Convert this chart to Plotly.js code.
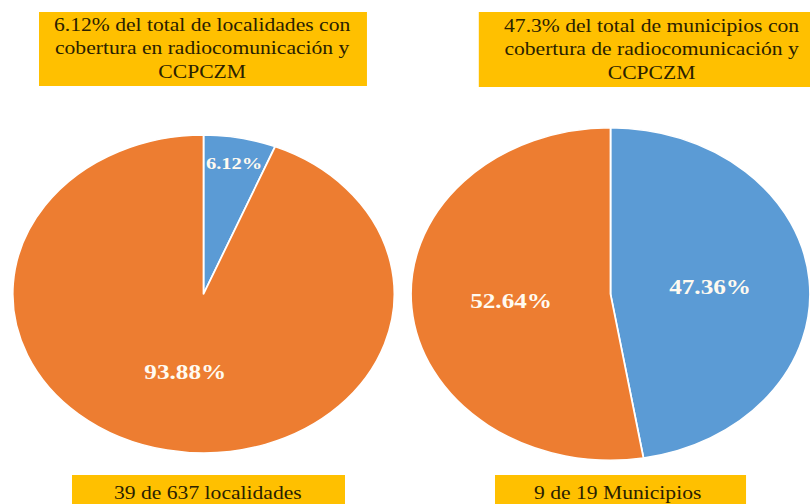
<!DOCTYPE html>
<html>
<head>
<meta charset="utf-8">
<script src="https://cdn.plot.ly/plotly-3.0.1.min.js"></script>
<style>
  html, body { margin: 0; padding: 0; background: #ffffff; overflow: hidden; }
  #wrap { width: 810px; height: 504px; overflow: hidden; position: relative; }
  #chart { width: 675px; height: 504px; transform: scaleX(1.2); transform-origin: 0 0; }
</style>
</head>
<body>
<div id="wrap"><div id="chart"></div></div>
<script>
// Data
const sliceLabels = ["Con cobertura", "Sin cobertura"];
const localidadesValues = [6.12, 93.88];
const municipiosValues = [47.36, 52.64];
const sliceColors = ["#5B9BD5", "#ED7D31"];
const topTitles = [
  "6.12% del total de localidades con<br>cobertura en radiocomunicación y<br>CCPCZM",
  "47.3% del total de municipios con<br>cobertura de radiocomunicación y<br>CCPCZM"
];
const bottomTitles = ["39 de 637 localidades", "9 de 19 Municipios"];

const W = 675, H = 504;
const px = v => v / W;
const py = v => 1 - v / H;

const gold = "#FFC000";
const textDark = "#2a2100";
const serif = "Liberation Serif";

function pieTrace(values, domain) {
  return {
    type: "pie",
    labels: sliceLabels,
    values: values,
    sort: false,
    direction: "clockwise",
    rotation: 0,
    marker: { colors: sliceColors, line: { color: "#ffffff", width: 1.5 } },
    texttemplate: "%{value:.2f}%",
    textposition: "inside",
    insidetextorientation: "horizontal",
    textfont: { family: serif, size: 21, color: "#fffaf0", weight: "bold" },
    hoverinfo: "none",
    showlegend: false,
    domain: domain
  };
}

const data = [
  pieTrace(localidadesValues, { x: [px(10.6), px(328.6)], y: [py(453), py(135)] }),
  pieTrace(municipiosValues, { x: [px(342.5), 1], y: [py(461), py(127)] })
];

const boxes = [
  [32.5, 12, 305.8, 86],
  [399, 12, 680, 87],
  [60, 475, 287.5, 510],
  [412.5, 475, 621.7, 510]
];

const shapes = boxes.map(b => ({
  type: "rect", xref: "paper", yref: "paper",
  x0: px(b[0]), x1: px(b[2]), y0: py(b[3]), y1: py(b[1]),
  fillcolor: gold, line: { width: 0 }, layer: "below"
}));

const annotations = [
  { text: topTitles[0], x: px(168.5), y: py(49), size: 18 },
  { text: topTitles[1], x: px(543), y: py(49.5), size: 18 },
  { text: bottomTitles[0], x: px(173.3), y: py(493), size: 18 },
  { text: bottomTitles[1], x: px(515), y: py(493), size: 18 }
].map(a => ({
  text: a.text, x: a.x, y: a.y,
  xref: "paper", yref: "paper", showarrow: false,
  xanchor: "center", yanchor: "middle", align: "center",
  font: { family: serif, size: a.size, color: textDark }
}));

const layout = {
  width: W, height: H,
  margin: { l: 0, r: 0, t: 0, b: 0 },
  paper_bgcolor: "#ffffff",
  plot_bgcolor: "#ffffff",
  showlegend: false,
  font: { family: serif },
  shapes: shapes,
  annotations: annotations
};

Plotly.newPlot("chart", data, layout, { displayModeBar: false, staticPlot: true });
</script>
</body>
</html>
